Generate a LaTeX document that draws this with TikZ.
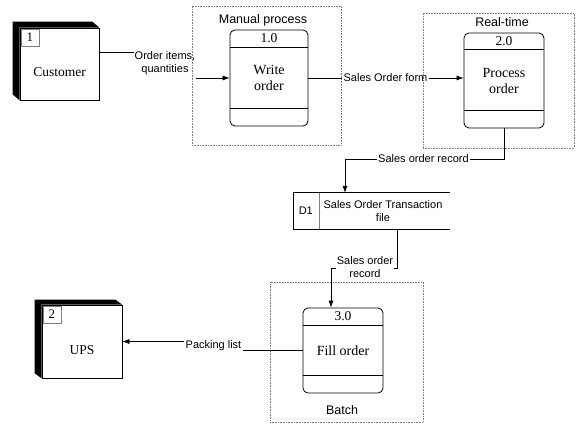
\documentclass[tikz,border=0pt]{standalone}
\usepackage{fontspec}
\setmainfont{Liberation Serif}
\setsansfont{Liberation Sans}
\usetikzlibrary{arrows.meta}
\begin{document}
\begin{tikzpicture}[x=1pt,y=-1pt,
  proc/.style={draw, rounded corners=5pt, line width=0.8pt, inner sep=0pt, align=center, font=\fontsize{14}{16}\selectfont},
  procnum/.style={inner sep=0pt, font=\fontsize{13.5}{14}\selectfont},
  div/.style={line width=0.8pt},
  ent/.style={draw, fill=white, line width=0.7pt, inner sep=0pt},
  enttxt/.style={inner sep=0pt, font=\fontsize{13.5}{14}\selectfont},
  numbox/.style={draw=gray, line width=0.4pt, inner sep=0pt, minimum width=18pt, minimum height=17pt, font=\fontsize{13}{14}\selectfont},
  grp/.style={draw=gray, densely dotted, line width=0.6pt, inner sep=0pt},
  grplbl/.style={inner sep=0pt, font=\sffamily\fontsize{12.5}{15}\selectfont},
  flowlbl/.style={inner sep=1pt, align=center, font=\sffamily\fontsize{11}{13}\selectfont},
  flow/.style={line width=0.6pt},
  arr/.style={line width=0.6pt, -{Latex[length=7pt,width=5pt]}},
  shade/.style={fill=black}
]
\useasboundingbox (0,0) rectangle (583,435);

% groups
\node[grp, minimum width=149pt, minimum height=139pt] (g1) at (266.5,75.5) {};
\node[grplbl] (g1l) at (263,20) {Manual process};
\node[grp, minimum width=151pt, minimum height=135pt] (g2) at (498.5,80.5) {};
\node[grplbl] (g2l) at (502,22) {Real-time};
\node[grp, minimum width=153pt, minimum height=140pt] (g3) at (346.5,352) {};
\node[grplbl] (g3l) at (342,410) {Batch};

% external entities
\node[ent, minimum width=79pt, minimum height=72pt] (cust) at (59.5,64) {};
\fill[shade] (cust.north west) -- ++(-7,-6) -- ([shift={(-7,-6)}]cust.north east) -- (cust.north east) -- cycle;
\fill[shade] (cust.north west) -- ++(-7,-6) -- ([shift={(-7,-6)}]cust.south west) -- (cust.south west) -- cycle;
\node[numbox, anchor=north west] (custn) at ([shift={(1,1)}]cust.north west) {1};
\node[enttxt] (custt) at (59.5,72) {Customer};

\node[ent, minimum width=80pt, minimum height=73pt] (ups) at (82,341.5) {};
\fill[shade] (ups.north west) -- ++(-7,-5) -- ([shift={(-7,-5)}]ups.north east) -- (ups.north east) -- cycle;
\fill[shade] (ups.north west) -- ++(-7,-5) -- ([shift={(-7,-5)}]ups.south west) -- (ups.south west) -- cycle;
\node[numbox, anchor=north west] (upsn) at ([shift={(1,1)}]ups.north west) {2};
\node[enttxt] (upst) at (82,350) {UPS};

% processes
\node[proc, minimum width=78pt, minimum height=96pt] (p1) at (269,78) {Write\\order};
\draw[div] ([yshift=-18pt]p1.north west) -- ([yshift=-18pt]p1.north east);
\draw[div] ([yshift=18pt]p1.south west) -- ([yshift=18pt]p1.south east);
\node[procnum] (p1n) at ([yshift=-9pt]p1.north) {1.0};

\node[proc, minimum width=80pt, minimum height=95pt] (p2) at (504,80.5) {Process\\order};
\draw[div] ([yshift=-17pt]p2.north west) -- ([yshift=-17pt]p2.north east);
\draw[div] ([yshift=18pt]p2.south west) -- ([yshift=18pt]p2.south east);
\node[procnum] (p2n) at ([yshift=-9pt]p2.north) {2.0};

\node[proc, minimum width=80pt, minimum height=85pt] (p3) at (343,350.5) {Fill order};
\draw[div] ([yshift=-18pt]p3.north west) -- ([yshift=-18pt]p3.north east);
\draw[div] ([yshift=18pt]p3.south west) -- ([yshift=18pt]p3.south east);
\node[procnum] (p3n) at ([yshift=-9pt]p3.north) {3.0};

% data store
\node[minimum width=157pt, minimum height=36pt, inner sep=0pt] (d1) at (371.5,211) {};
\draw[line width=1.1pt] (d1.north west) -- (d1.north east);
\draw[line width=1.1pt] (d1.south west) -- (d1.south east);
\draw[line width=0.6pt] (d1.north west) -- (d1.south west);
\draw[line width=0.5pt, gray] ([xshift=26pt]d1.north west) -- ([xshift=26pt]d1.south west);
\node[flowlbl] (d1n) at ([xshift=13pt]d1.west) {D1};
\node[flowlbl] (d1t) at (383,211) {Sales Order Transaction\\file};

% flow labels
\node[flowlbl] (l1) at (165,63.5) {Order items,\\quantities};
\node[flowlbl] (l2) at (385.5,78) {Sales Order form};
\node[flowlbl, anchor=west] (l3) at (377,159) {Sales order record};
\node[flowlbl] (l5) at (213.5,346) {Packing list};

% flows
\draw[flow] ([yshift=12pt]cust.east) -- ([yshift=12pt]cust.east -| l1.west);
\draw[arr] (l1.east |- p1.west) -- (p1.west);

\draw[flow] (p1.east) -- (p1.east -| l2.west);
\draw[arr] (l2.east) -- (l2.east -| p2.west);

\draw[flow] (p2.south) |- (l3.east);
\draw[arr] (l3.west) -| ([xshift=-26.5pt]d1.north);

\draw[arr] ([xshift=25.5pt]d1.south) -- ++(0,39) -| ([xshift=-12pt]p3.north);
\node[flowlbl, fill=white] (l4) at (365,267) {Sales order\\record};

\draw[flow] (p3.west) -- (p3.west -| l5.east);
\draw[arr] (ups.east -| l5.west) -- (ups.east);
\end{tikzpicture}
\end{document}
